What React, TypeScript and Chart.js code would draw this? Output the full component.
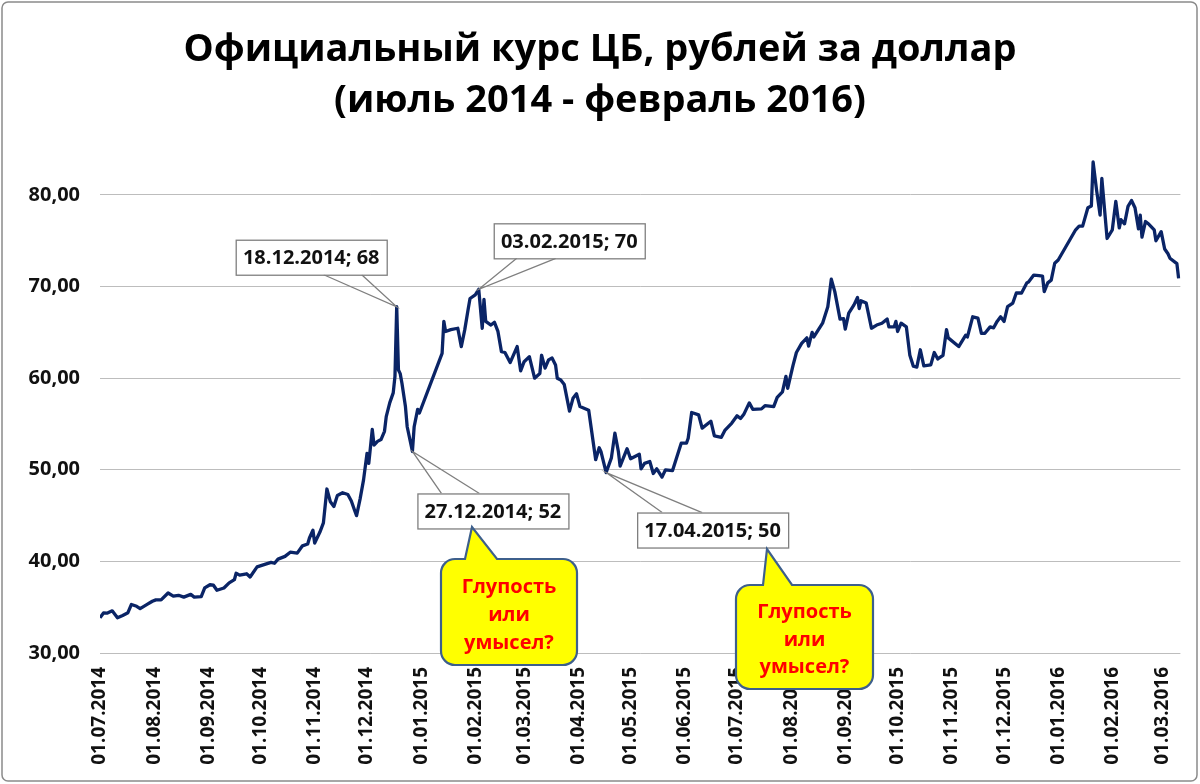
import React, { useEffect, useRef } from "react";
import { Chart, registerables } from "chart.js";

Chart.register(...registerables);

// ---------- DATA ----------
const titleLines = ["Официальный курс ЦБ, рублей за доллар", "(июль 2014 - февраль 2016)"];

const dates = [
  "01.07.2014","03.07.2014","05.07.2014","08.07.2014","11.07.2014","14.07.2014","17.07.2014","19.07.2014","22.07.2014","24.07.2014",
  "28.07.2014","31.07.2014","02.08.2014","05.08.2014","09.08.2014","12.08.2014","15.08.2014","18.08.2014","22.08.2014","24.08.2014",
  "28.08.2014","30.08.2014","02.09.2014","04.09.2014","06.09.2014","10.09.2014","13.09.2014","16.09.2014","17.09.2014","19.09.2014",
  "23.09.2014","25.09.2014","29.09.2014","03.10.2014","07.10.2014","09.10.2014","11.10.2014","15.10.2014","18.10.2014","22.10.2014",
  "25.10.2014","28.10.2014","29.10.2014","31.10.2014","01.11.2014","04.11.2014","06.11.2014","08.11.2014","10.11.2014","12.11.2014",
  "14.11.2014","17.11.2014","20.11.2014","22.11.2014","24.11.2014","25.11.2014","27.11.2014","29.11.2014","01.12.2014","02.12.2014",
  "04.12.2014","05.12.2014","07.12.2014","09.12.2014","11.12.2014","12.12.2014","14.12.2014","16.12.2014","17.12.2014","18.12.2014",
  "19.12.2014","20.12.2014","21.12.2014","23.12.2014","24.12.2014","27.12.2014","28.12.2014","30.12.2014","31.12.2014","13.01.2015",
  "14.01.2015","15.01.2015","18.01.2015","22.01.2015","24.01.2015","26.01.2015","28.01.2015","29.01.2015","01.02.2015","03.02.2015",
  "05.02.2015","06.02.2015","07.02.2015","10.02.2015","12.02.2015","14.02.2015","16.02.2015","18.02.2015","21.02.2015","25.02.2015",
  "27.02.2015","01.03.2015","04.03.2015","07.03.2015","10.03.2015","11.03.2015","13.03.2015","15.03.2015","17.03.2015","19.03.2015",
  "20.03.2015","22.03.2015","24.03.2015","27.03.2015","29.03.2015","31.03.2015","02.04.2015","07.04.2015","11.04.2015","13.04.2015",
  "14.04.2015","17.04.2015","20.04.2015","22.04.2015","24.04.2015","25.04.2015","29.04.2015","01.05.2015","06.05.2015","07.05.2015",
  "09.05.2015","12.05.2015","14.05.2015","16.05.2015","19.05.2015","21.05.2015","25.05.2015","30.05.2015","02.06.2015","03.06.2015",
  "05.06.2015","09.06.2015","11.06.2015","16.06.2015","18.06.2015","22.06.2015","24.06.2015","28.06.2015","01.07.2015","03.07.2015",
  "05.07.2015","08.07.2015","10.07.2015","15.07.2015","17.07.2015","22.07.2015","24.07.2015","27.07.2015","29.07.2015","30.07.2015",
  "02.08.2015","04.08.2015","07.08.2015","10.08.2015","11.08.2015","13.08.2015","14.08.2015","19.08.2015","22.08.2015","24.08.2015",
  "26.08.2015","29.08.2015","31.08.2015","01.09.2015","03.09.2015","06.09.2015","08.09.2015","09.09.2015","10.09.2015","13.09.2015",
  "16.09.2015","19.09.2015","22.09.2015","25.09.2015","26.09.2015","29.09.2015","30.09.2015","01.10.2015","03.10.2015","06.10.2015",
  "08.10.2015","10.10.2015","12.10.2015","14.10.2015","16.10.2015","20.10.2015","22.10.2015","24.10.2015","27.10.2015","29.10.2015",
  "30.10.2015","05.11.2015","09.11.2015","10.11.2015","13.11.2015","16.11.2015","18.11.2015","20.11.2015","23.11.2015","25.11.2015",
  "27.11.2015","29.11.2015","01.12.2015","03.12.2015","06.12.2015","08.12.2015","11.12.2015","14.12.2015","15.12.2015","18.12.2015",
  "21.12.2015","23.12.2015","24.12.2015","26.12.2015","28.12.2015","30.12.2015","01.01.2016","11.01.2016","13.01.2016","15.01.2016",
  "18.01.2016","20.01.2016","21.01.2016","23.01.2016","25.01.2016","26.01.2016","29.01.2016","01.02.2016","03.02.2016","05.02.2016",
  "06.02.2016","08.02.2016","10.02.2016","12.02.2016","14.02.2016","16.02.2016","17.02.2016","18.02.2016","20.02.2016","22.02.2016",
  "25.02.2016","26.02.2016","29.02.2016","02.03.2016","04.03.2016","05.03.2016","09.03.2016","10.03.2016"
];

const rates = [
  33.84,34.37,34.35,34.6,33.85,34.1,34.4,35.3,35.1,34.85,
  35.3,35.65,35.8,35.8,36.55,36.2,36.3,36.1,36.4,36.1,
  36.15,37.1,37.45,37.4,36.85,37.1,37.65,38.0,38.7,38.5,
  38.65,38.3,39.4,39.65,39.9,39.8,40.25,40.55,41.0,40.9,
  41.7,41.9,42.55,43.4,42.0,43.2,44.2,47.9,46.5,46.0,
  47.2,47.5,47.3,46.6,45.5,45.0,46.8,48.9,51.8,50.7,
  54.4,52.7,53.1,53.3,54.2,55.8,57.3,58.4,60.2,67.8,
  60.9,60.5,59.45,56.9,54.7,52.0,54.7,56.6,56.2,62.7,
  66.2,65.1,65.3,65.45,63.45,65.3,67.6,68.7,69.1,69.7,
  65.45,68.6,66.2,65.8,66.1,65.1,62.9,62.8,61.7,63.45,
  60.8,61.8,62.35,60.0,60.5,62.5,61.1,62.0,62.2,61.45,
  60.0,59.8,59.3,56.4,57.8,58.3,56.9,56.5,51.1,52.4,
  52.0,49.7,51.3,54.0,52.0,50.4,52.3,51.2,51.7,50.1,
  50.7,50.9,49.6,50.1,49.2,50.0,49.9,52.9,52.9,53.45,
  56.25,56.0,54.55,55.3,53.7,53.55,54.3,55.1,55.9,55.6,
  56.1,57.3,56.6,56.65,57.0,56.9,57.9,58.5,60.2,58.9,
  61.35,62.8,63.8,64.4,63.5,65.0,64.5,66.0,67.8,70.8,
  69.45,66.45,66.5,65.35,67.1,68.0,68.8,67.6,68.45,68.2,
  65.45,65.8,66.0,66.45,65.6,65.6,66.2,65.1,66.0,65.6,
  62.5,61.3,61.2,63.1,61.35,61.45,62.8,62.1,62.5,65.3,
  64.4,63.45,64.7,64.5,66.7,66.55,64.9,64.9,65.6,65.5,
  66.2,66.7,66.2,67.8,68.2,69.3,69.3,70.4,70.5,71.25,
  71.2,71.15,69.45,70.4,70.7,72.55,72.9,76.2,76.6,76.6,
  78.6,78.8,83.6,80.5,77.8,81.8,75.25,76.2,79.3,76.4,
  77.3,76.85,78.75,79.4,78.6,76.3,77.8,75.4,77.1,76.8,
  76.2,75.0,76.0,74.1,73.55,73.1,72.5,70.9
];

const monthTicks = [
  "01.07.2014","01.08.2014","01.09.2014","01.10.2014","01.11.2014","01.12.2014",
  "01.01.2015","01.02.2015","01.03.2015","01.04.2015","01.05.2015","01.06.2015",
  "01.07.2015","01.08.2015","01.09.2015","01.10.2015","01.11.2015","01.12.2015",
  "01.01.2016","01.02.2016","01.03.2016"
];
const axisStart = "01.07.2014";
const axisEnd = "11.03.2016";

const yTicks = [30, 40, 50, 60, 70, 80];
const yMin = 30;
const yMax = 86;

const annotationDates = ["18.12.2014", "03.02.2015", "27.12.2014", "17.04.2015"];
const annotationLabels = ["18.12.2014; 68", "03.02.2015; 70", "27.12.2014; 52", "17.04.2015; 50"];

const bubbleLines = ["Глупость", "или", "умысел?"];

// ---------- LAYOUT / STYLE (not data) ----------
const FONT = "'Open Sans', 'Noto Sans', 'DejaVu Sans', sans-serif";
const annotationLayout = [
  { dx: -161, dy: -67, l1: 88, l2: 126, fromBottom: true },
  { dx: 15, dy: -66, l1: 23, l2: 62, fromBottom: true },
  { dx: 5, dy: 42, l1: 24, l2: 62, fromBottom: false },
  { dx: 31, dy: 40, l1: 25, l2: 65, fromBottom: false },
];
const BOX_W = 151;
const BOX_H = 35;
const bubbles = [
  { x: 441, y: 559, w: 136, h: 106, tipX: 472, tipY: 527, b1: 465, b2: 497, lines: [587, 615, 643] },
  { x: 736, y: 585, w: 137, h: 104, tipX: 767, tipY: 549, b1: 763, b2: 792, lines: [612, 640, 667] },
];

function dayIndex(s: string): number {
  const [d, m, y] = s.split(".").map(Number);
  const [d0, m0, y0] = axisStart.split(".").map(Number);
  return Math.round((Date.UTC(y, m - 1, d) - Date.UTC(y0, m0 - 1, d0)) / 86400000);
}

function fmt(v: number): string {
  return v.toFixed(2).replace(".", ",");
}

export default function App() {
  const ref = useRef<HTMLCanvasElement | null>(null);

  useEffect(() => {
    if (!ref.current) return;
    const points = dates.map((d, i) => ({ x: dayIndex(d), y: rates[i] }));

    const overlay = {
      id: "overlay",
      afterDraw(chart: any) {
        const ctx = chart.ctx as CanvasRenderingContext2D;
        const xs = chart.scales.x;
        const ys = chart.scales.y;
        ctx.save();

        // title
        ctx.fillStyle = "#000";
        ctx.textAlign = "center";
        ctx.textBaseline = "middle";
        ctx.font = `bold 38px ${FONT}`;
        ctx.fillText(titleLines[0], 600, 50);
        ctx.fillText(titleLines[1], 600, 101);

        // annotations
        annotationDates.forEach((ds, i) => {
          const idx = dates.indexOf(ds);
          const ax = xs.getPixelForValue(dayIndex(ds));
          const ay = ys.getPixelForValue(rates[idx]);
          const L = annotationLayout[i];
          const bx = ax + L.dx;
          const by = ay + L.dy;
          const ly = L.fromBottom ? by + BOX_H : by;
          ctx.strokeStyle = "#7f7f7f";
          ctx.lineWidth = 1.3;
          ctx.beginPath();
          ctx.moveTo(bx + L.l1, ly);
          ctx.lineTo(ax, ay);
          ctx.lineTo(bx + L.l2, ly);
          ctx.stroke();
          ctx.fillStyle = "#fff";
          ctx.fillRect(bx, by, BOX_W, BOX_H);
          ctx.strokeRect(bx + 0.5, by + 0.5, BOX_W, BOX_H);
          ctx.fillStyle = "#111";
          ctx.font = `bold 20px ${FONT}`;
          ctx.textAlign = "center";
          ctx.textBaseline = "middle";
          ctx.fillText(annotationLabels[i], bx + BOX_W / 2, by + BOX_H / 2 + 1);
        });

        // bubbles
        bubbles.forEach((b) => {
          const r = 14;
          ctx.beginPath();
          ctx.moveTo(b.x + r, b.y);
          ctx.lineTo(b.b1, b.y);
          ctx.lineTo(b.tipX, b.tipY);
          ctx.lineTo(b.b2, b.y);
          ctx.lineTo(b.x + b.w - r, b.y);
          ctx.arcTo(b.x + b.w, b.y, b.x + b.w, b.y + r, r);
          ctx.lineTo(b.x + b.w, b.y + b.h - r);
          ctx.arcTo(b.x + b.w, b.y + b.h, b.x + b.w - r, b.y + b.h, r);
          ctx.lineTo(b.x + r, b.y + b.h);
          ctx.arcTo(b.x, b.y + b.h, b.x, b.y + b.h - r, r);
          ctx.lineTo(b.x, b.y + r);
          ctx.arcTo(b.x, b.y, b.x + r, b.y, r);
          ctx.closePath();
          ctx.fillStyle = "#ffff00";
          ctx.fill();
          ctx.strokeStyle = "#3d5f8c";
          ctx.lineWidth = 2.2;
          ctx.stroke();
          ctx.fillStyle = "#ff0000";
          ctx.font = `bold 20px ${FONT}`;
          ctx.textAlign = "center";
          ctx.textBaseline = "middle";
          bubbleLines.forEach((t, k) => ctx.fillText(t, b.x + b.w / 2, b.lines[k]));
        });

        // outer border
        ctx.strokeStyle = "#8a8a8a";
        ctx.lineWidth = 1.5;
        ctx.beginPath();
        (ctx as any).roundRect ? (ctx as any).roundRect(2, 2, 1195, 779, 6) : ctx.rect(2, 2, 1195, 779);
        ctx.stroke();
        ctx.restore();
      },
    };

    const chart = new Chart(ref.current, {
      type: "line",
      data: {
        datasets: [
          {
            data: points,
            borderColor: "#0a2466",
            borderWidth: 3.3,
            borderJoinStyle: "round",
            pointRadius: 0,
            tension: 0,
            fill: false,
          },
        ],
      },
      options: {
        animation: false,
        responsive: false,
        devicePixelRatio: 1,
        layout: { padding: { top: 140, right: 17, left: 0, bottom: 0 } },
        plugins: {
          legend: { display: false },
          tooltip: { enabled: false },
          title: { display: false },
        },
        scales: {
          x: {
            type: "linear",
            min: dayIndex(axisStart),
            max: dayIndex(axisEnd),
            afterBuildTicks: (s: any) => {
              s.ticks = monthTicks.map((m) => ({ value: dayIndex(m) }));
            },
            afterFit: (s: any) => {
              s.height = 131;
            },
            ticks: {
              autoSkip: false,
              minRotation: 90,
              maxRotation: 90,
              padding: 14,
              color: "#111",
              font: { family: FONT, size: 19, weight: "bold" },
              callback: (_v: any, i: number) => monthTicks[i],
            },
            grid: { display: false, drawTicks: false },
            border: { display: false },
          },
          y: {
            type: "linear",
            min: yMin,
            max: yMax,
            afterBuildTicks: (s: any) => {
              s.ticks = yTicks.map((v) => ({ value: v }));
            },
            afterFit: (s: any) => {
              s.width = 100;
            },
            ticks: {
              padding: 20,
              color: "#111",
              font: { family: FONT, size: 20, weight: "bold" },
              callback: (v: any) => fmt(Number(v)),
            },
            grid: { color: "#bdbdbd", lineWidth: 1, drawTicks: false },
            border: { display: false },
          },
        },
      },
      plugins: [overlay],
    });
    return () => chart.destroy();
  }, []);

  return (
    <div style={{ position: "fixed", left: 0, top: 0, width: 1200, height: 784, background: "#fff" }}>
      <canvas ref={ref} width={1200} height={784} style={{ display: "block" }} />
    </div>
  );
}
